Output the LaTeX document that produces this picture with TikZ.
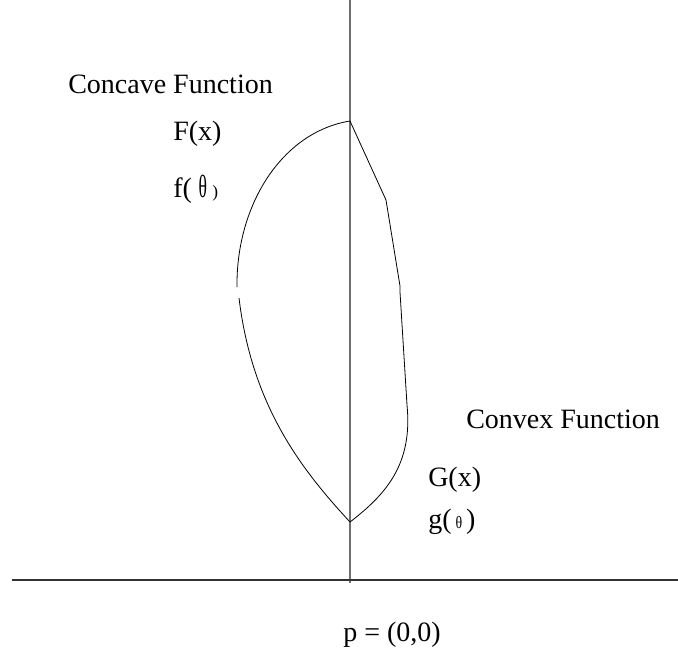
\documentclass[tikz,border=0pt]{standalone}
\usepackage{fontspec}
\setmainfont{Liberation Serif}
\usetikzlibrary{positioning}
\definecolor{axisgray}{RGB}{110,110,110}

\newcommand{\thetabig}{{\fontsize{24}{26}\selectfont\scalebox{0.55}[1]{θ}}}
\newcommand{\thetasmall}{{\fontsize{13}{15}\selectfont\scalebox{0.8}[1]{θ}}}

\begin{document}
\begin{tikzpicture}[
  x=0.75pt, y=-0.75pt,
  label/.style={anchor=west, inner sep=0pt, font=\fontsize{21}{25}\selectfont},
  curve/.style={line width=0.6pt, black},
  axis/.style={line width=0.9pt}
]
  \useasboundingbox (0,0) rectangle (678,647);

  % axes
  \coordinate (ytop) at (350,0);
  \coordinate (ybot) at (350,583);
  \coordinate (xleft) at (12,580);
  \coordinate (xright) at (678,580);
  \draw[axis, axisgray] (ytop) -- (ybot);
  \draw[axis, black!80] (xleft) -- (xright);

  % points on the axis
  \coordinate (top) at (350,121);
  \coordinate (bottom) at (350,522);

  % concave side
  \coordinate (lmid) at (237,287);
  \coordinate (lmid2) at (239,298);
  \draw[curve] (top) .. controls (282,132) and (236,205) .. (lmid);
  \draw[curve] (lmid2) .. controls (252,405) and (300,468) .. (bottom);

  % convex side
  \coordinate (k1) at (386,200);
  \coordinate (k2) at (400,286);
  \coordinate (k3) at (400,292);
  \coordinate (k4) at (407,405);
  \draw[curve] (top) -- (k1) -- (k2) -- (k3) -- (k4)
    .. controls (413,465) and (385,495) .. (bottom);

  % labels
  \node[label] (concave) at (68,84) {Concave Function};
  \node[label] (Fx) at (173,134) {F(x)};
  \node[label] (ftheta) at (173,189) {f(\hspace{5pt}\thetabig\hspace{4pt}{\fontsize{13}{15}\selectfont)}};
  \node[label] (convex) at (466,419) {Convex Function};
  \node[label] (Gx) at (428,480) {G(x)};
  \node[label] (gtheta) at (428,522) {g(\hspace{3pt}\thetasmall\hspace{3pt})};
  \node[label] (origin) at (343,635) {p = (0,0)};
\end{tikzpicture}
\end{document}
